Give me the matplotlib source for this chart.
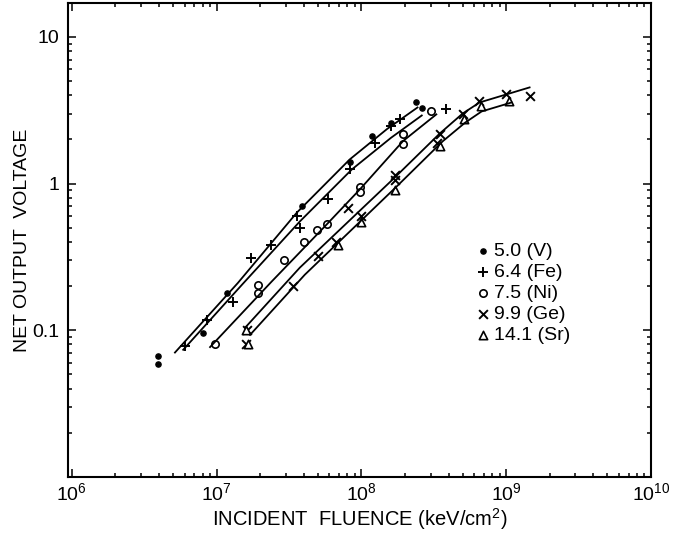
import numpy as np
import matplotlib
matplotlib.use("Agg")
import matplotlib.pyplot as plt
from matplotlib.ticker import LogLocator, NullFormatter, FixedLocator, FixedFormatter

plt.rcParams['font.family'] = ['Liberation Sans', 'DejaVu Sans']
plt.rcParams['mathtext.fontset'] = 'custom'
plt.rcParams['mathtext.rm'] = 'Liberation Sans'

# measured points (keV/cm^2, volts)
v_x = [3.94e6, 3.94e6, 8.05e6, 1.18e7, 3.9e7, 8.3e7, 1.18e8, 1.59e8, 2.4e8, 2.6e8]
v_y = [0.067, 0.059, 0.096, 0.18, 0.70, 1.41, 2.1, 2.6, 3.57, 3.25]

fe_x = [6.05e6, 8.6e6, 1.3e7, 1.74e7, 2.39e7, 3.56e7, 3.75e7, 5.9e7, 8.3e7, 1.24e8, 1.61e8, 1.84e8, 3.86e8]
fe_y = [0.078, 0.118, 0.155, 0.31, 0.38, 0.60, 0.50, 0.78, 1.25, 1.9, 2.46, 2.74, 3.2]

ni_x = [9.7e6, 1.94e7, 1.94e7, 2.91e7, 4.0e7, 4.9e7, 5.8e7, 9.7e7, 9.7e7, 1.94e8, 1.94e8, 3.04e8]
ni_y = [0.080, 0.204, 0.18, 0.30, 0.40, 0.485, 0.53, 0.94, 0.87, 2.16, 1.85, 3.12]

ge_x = [1.61e7, 1.6e7, 3.37e7, 5.0e7, 6.7e7, 8.1e7, 1.0e8, 1.7e8, 1.7e8, 3.47e8, 3.3e8, 5.0e8, 6.5e8, 1.0e9, 1.45e9]
ge_y = [0.10, 0.08, 0.20, 0.32, 0.40, 0.68, 0.60, 1.06, 1.15, 2.16, 1.9, 2.96, 3.65, 4.05, 3.95]

sr_x = [1.65e7, 1.6e7, 6.9e7, 1.0e8, 1.7e8, 3.47e8, 5.15e8, 6.7e8, 1.05e9]
sr_y = [0.08, 0.10, 0.38, 0.55, 0.91, 1.8, 2.74, 3.37, 3.65]

# hand drawn fit curves
v_fit_x = [5.15e6, 1.4e7, 3.58e7, 8.3e7, 1.5e8, 2.44e8]
v_fit_y = [0.0705, 0.21, 0.634, 1.46, 2.35, 3.30]
fe_fit_x = [5.87e6, 1.5e7, 3.75e7, 8.57e7, 1.6e8, 2.61e8]
fe_fit_y = [0.0736, 0.205, 0.551, 1.246, 2.05, 2.91]
ni_fit_x = [9.0e6, 2.4e7, 5.74e7, 9.73e7, 1.94e8, 3.29e8]
ni_fit_y = [0.0768, 0.215, 0.525, 0.91, 1.95, 2.96]
ge_fit_x = [1.57e7, 3.75e7, 1.70e8, 3.47e8, 5.0e8, 6.55e8, 1.45e9]
ge_fit_y = [0.104, 0.267, 1.10, 2.19, 3.0, 3.57, 4.52]
sr_fit_x = [1.70e7, 4.06e7, 1.78e8, 3.64e8, 5.2e8, 6.76e8, 1.09e9]
sr_fit_y = [0.093, 0.239, 0.97, 1.94, 2.6, 3.1, 3.57]

labels = ['5.0 (V)', '6.4 (Fe)', '7.5 (Ni)', '9.9 (Ge)', '14.1 (Sr)']

fig = plt.figure(figsize=(6.83, 5.35), dpi=100)
ax = fig.add_axes([68 / 683, 58 / 535, 583 / 683, 474 / 535])

for fx, fy in [(v_fit_x, v_fit_y), (fe_fit_x, fe_fit_y), (ni_fit_x, ni_fit_y),
               (ge_fit_x, ge_fit_y), (sr_fit_x, sr_fit_y)]:
    ax.plot(fx, fy, color='black', lw=1.3)

h = []
h.append(ax.scatter(v_x, v_y, marker='o', s=14, color='black', label=labels[0]))
h.append(ax.scatter(fe_x, fe_y, marker='+', s=60, color='black', linewidths=1.4, label=labels[1]))
h.append(ax.scatter(ni_x, ni_y, marker='o', s=28, facecolors='white', edgecolors='black', linewidths=1.2, label=labels[2]))
h.append(ax.scatter(ge_x, ge_y, marker='x', s=40, color='black', linewidths=1.4, label=labels[3]))
h.append(ax.scatter(sr_x, sr_y, marker='^', s=36, facecolors='white', edgecolors='black', linewidths=1.2, label=labels[4]))

ax.set_xscale('log')
ax.set_yscale('log')
ax.set_xlim(9.4e5, 1e10)
ax.set_ylim(0.01, 17)

ax.xaxis.set_major_locator(LogLocator(base=10, numticks=10))
ax.xaxis.set_minor_locator(LogLocator(base=10, subs=np.arange(2, 10), numticks=20))
ax.xaxis.set_minor_formatter(NullFormatter())
ax.yaxis.set_major_locator(FixedLocator([0.1, 1, 10]))
ax.yaxis.set_major_formatter(FixedFormatter(['0.1', '1', '10']))
ax.yaxis.set_minor_locator(LogLocator(base=10, subs=np.arange(2, 10), numticks=20))
ax.yaxis.set_minor_formatter(NullFormatter())

ax.tick_params(which='both', direction='in', top=True, right=True, width=1.1)
ax.tick_params(which='major', length=6, labelsize=14)
ax.tick_params(which='minor', length=3)
ax.tick_params(axis='x', pad=4)
ax.tick_params(axis='y', pad=6)
for s in ax.spines.values():
    s.set_linewidth(1.5)

ax.set_xlabel('INCIDENT  FLUENCE (keV/cm$^2$)', fontsize=14.5, labelpad=1)
ax.set_ylabel('NET OUTPUT  VOLTAGE', fontsize=14, labelpad=1)

ax.legend(handles=h, loc='upper left', bbox_to_anchor=(0.703, 0.494), frameon=False,
          fontsize=14, handlelength=0.5, handletextpad=0.35, labelspacing=0.17,
          borderpad=0, borderaxespad=0)

fig.savefig('out.png', dpi=100)
